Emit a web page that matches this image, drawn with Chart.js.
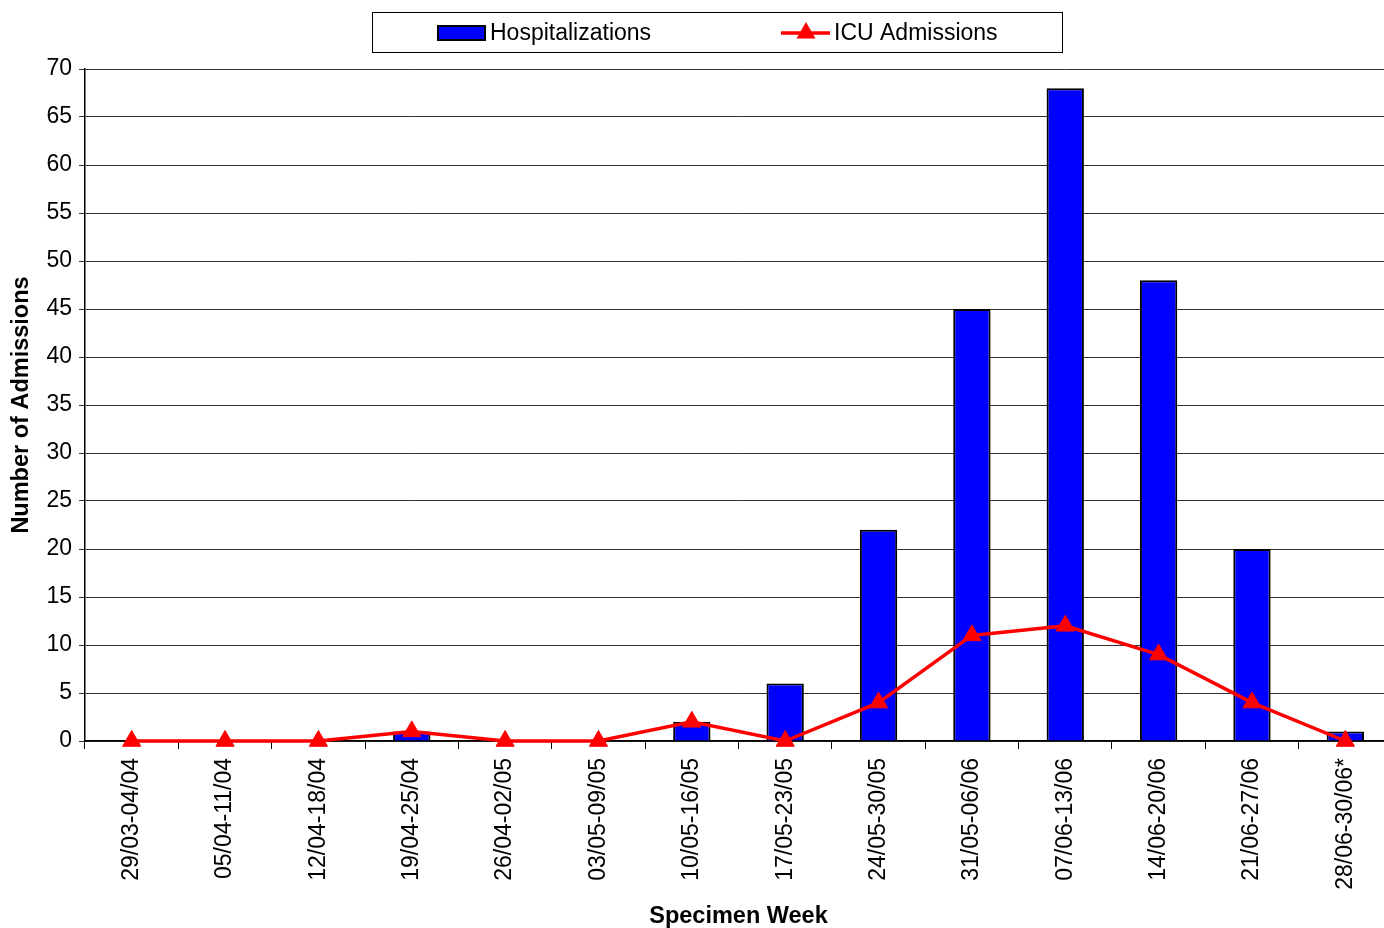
<!DOCTYPE html>
<html>
<head>
<meta charset="utf-8">
<script src="https://cdn.jsdelivr.net/npm/chart.js@4.4.1/dist/chart.umd.min.js"></script>
<style>
  html, body { margin: 0; padding: 0; background: #fff; overflow: hidden; width: 1384px; height: 928px; }
  #wrap { width: 1392px; height: 928px; position: relative; }
</style>
</head>
<body>
<div id="wrap"><canvas id="c"></canvas></div>
<script>
const weeks = ["29/03-04/04","05/04-11/04","12/04-18/04","19/04-25/04","26/04-02/05","03/05-09/05","10/05-16/05","17/05-23/05","24/05-30/05","31/05-06/06","07/06-13/06","14/06-20/06","21/06-27/06","28/06-30/06*"];
const hospitalizations = [0,0,0,1,0,0,2,6,22,45,68,48,20,1];
const icuAdmissions = [0,0,0,1,0,0,2,0,4,11,12,9,4,0];
const yTicks = [0,5,10,15,20,25,30,35,40,45,50,55,60,65,70];

const FONT = "'Liberation Sans', Arial, sans-serif";
Chart.defaults.color = '#000';
Chart.defaults.font.family = FONT;

const boxedLegend = {
  id: 'boxedLegend',
  afterDraw(chart) {
    const ctx = chart.ctx;
    const ds = chart.data.datasets;
    const bar = ds.find(d => d.type === 'bar');
    const line = ds.find(d => d.type === 'line');
    ctx.save();
    ctx.strokeStyle = '#000';
    ctx.lineWidth = 1;
    ctx.fillStyle = '#fff';
    ctx.fillRect(372.5, 12.5, 690, 40);
    ctx.strokeRect(372.5, 12.5, 690, 40);
    // bar swatch
    ctx.fillStyle = bar.backgroundColor;
    ctx.fillRect(438, 26, 47, 14);
    ctx.lineWidth = 2;
    ctx.strokeRect(438, 26, 47, 14);
    ctx.font = "23px " + FONT;
    ctx.fillStyle = '#000';
    ctx.textBaseline = 'middle';
    ctx.fillText(bar.label, 490, 34);
    // line swatch
    ctx.strokeStyle = line.borderColor;
    ctx.lineWidth = 3.5;
    ctx.beginPath();
    ctx.moveTo(781, 33);
    ctx.lineTo(830, 33);
    ctx.stroke();
    ctx.fillStyle = line.borderColor;
    const cx = 806, cy = 33, r = 11;
    ctx.beginPath();
    ctx.moveTo(cx, cy - r);
    ctx.lineTo(cx + r * 0.866, cy + r * 0.5);
    ctx.lineTo(cx - r * 0.866, cy + r * 0.5);
    ctx.closePath();
    ctx.fill();
    ctx.fillStyle = '#000';
    ctx.fillText(line.label, 834, 34);
    ctx.restore();
  }
};

new Chart(document.getElementById('c'), {
  data: {
    labels: weeks,
    datasets: [
      {
        type: 'line',
        label: 'ICU Admissions',
        data: icuAdmissions,
        borderColor: '#FF0000',
        backgroundColor: '#FF0000',
        borderWidth: 3.5,
        tension: 0,
        clip: false,
        pointStyle: 'triangle',
        pointRadius: 10.5,
        pointBorderWidth: 1,
        pointBackgroundColor: '#FF0000',
        pointBorderColor: '#FF0000',
        order: 0
      },
      {
        type: 'bar',
        label: 'Hospitalizations',
        data: hospitalizations,
        backgroundColor: '#0000FF',
        borderColor: '#000000',
        borderWidth: 2,
        barPercentage: 0.4,
        categoryPercentage: 1,
        order: 1
      }
    ]
  },
  options: {
    responsive: true,
    maintainAspectRatio: false,
    animation: false,
    layout: { autoPadding: false, padding: { top: 69, left: 0, right: 0, bottom: 0 } },
    plugins: {
      legend: { display: false },
      tooltip: { enabled: false }
    },
    scales: {
      x: {
        type: 'category',
        offset: true,
        border: { display: true, color: '#000', width: 1.5 },
        grid: { display: true, offset: true, drawOnChartArea: false, drawTicks: true, tickLength: 8, color: '#000', lineWidth: 1 },
        ticks: { minRotation: 90, maxRotation: 90, padding: 9, autoSkip: false, color: '#000', font: { size: 23, family: FONT } },
        title: { display: true, text: 'Specimen Week', color: '#000', font: { size: 23.5, weight: 'bold', family: FONT, lineHeight: 1 }, padding: { top: 0, bottom: 0 } },
        afterFit(scale) { scale.height = 187; scale.paddingLeft = 0; scale.paddingRight = 0; }
      },
      y: {
        min: 0,
        max: 70,
        border: { display: true, color: '#000', width: 1.5 },
        grid: { color: '#333', lineWidth: 1, drawTicks: true, tickLength: 6 },
        afterBuildTicks(scale) { scale.ticks = yTicks.map(v => ({ value: v })); },
        ticks: { padding: 7, color: '#000', font: { size: 23, family: FONT } },
        title: { display: true, text: 'Number of Admissions', color: '#000', font: { size: 23.5, weight: 'bold', family: FONT, lineHeight: 1 }, padding: { top: 10, bottom: 0 } },
        afterFit(scale) { scale.width = 85; }
      }
    }
  },
  plugins: [boxedLegend]
});
</script>
</body>
</html>
